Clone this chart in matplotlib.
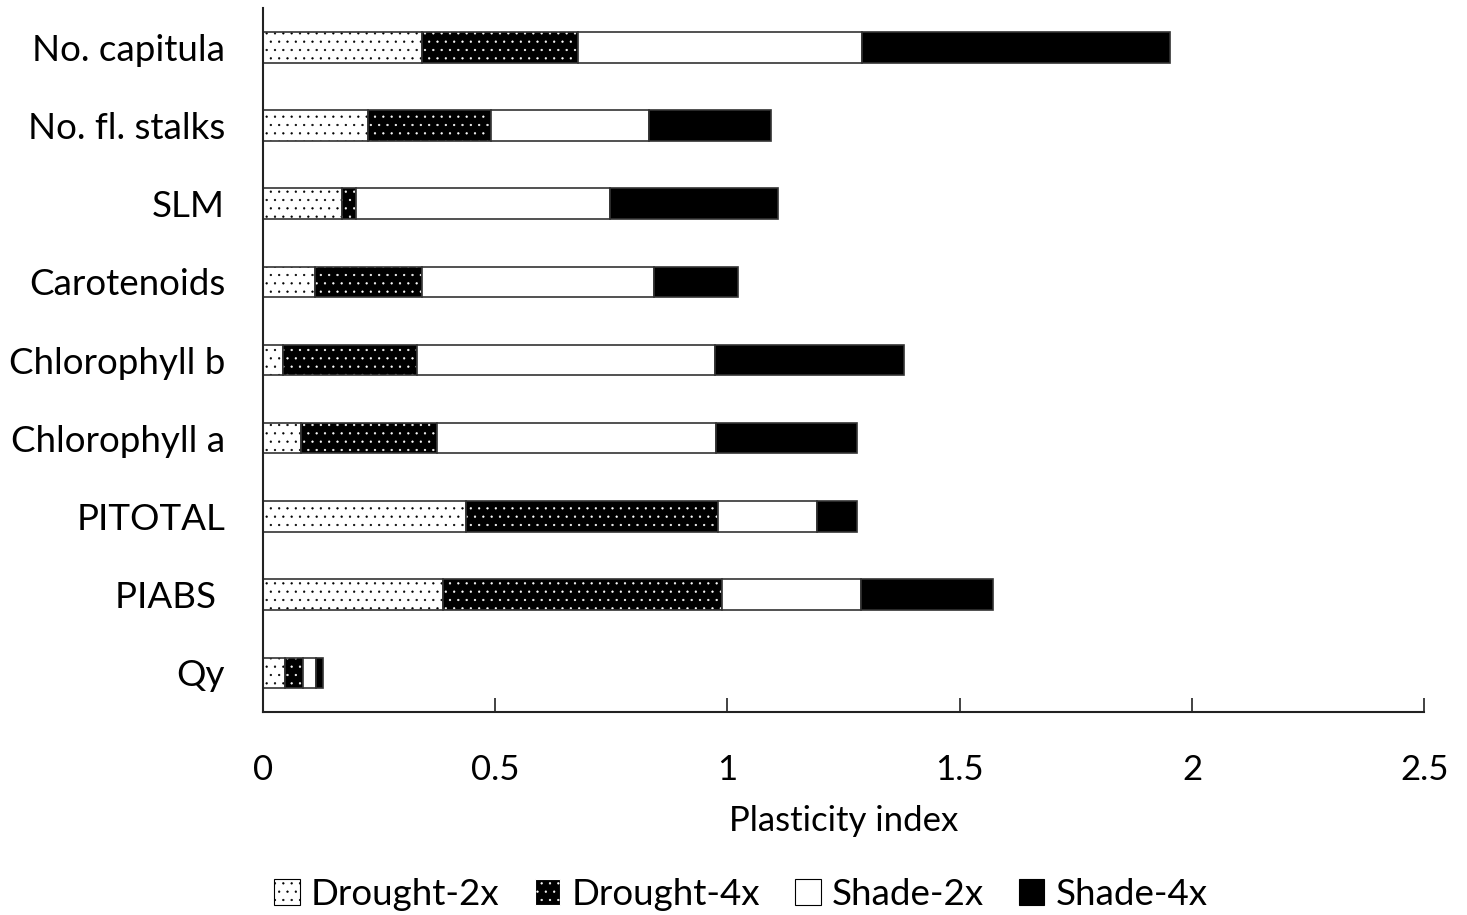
import matplotlib
matplotlib.use('Agg')
import matplotlib.pyplot as plt
import numpy as np
from matplotlib.patches import Patch

plt.rcParams['font.family'] = ['Lato', 'DejaVu Sans']
plt.rcParams['hatch.linewidth'] = 0.4

# traits from top to bottom
traits = ['No. capitula', 'No. fl. stalks', 'SLM', 'Carotenoids', 'Chlorophyll b',
          'Chlorophyll a', 'PITOTAL', 'PIABS ', 'Qy']
drought_2x = [0.342, 0.226, 0.170, 0.112, 0.043, 0.082, 0.437, 0.389, 0.049]
drought_4x = [0.336, 0.265, 0.032, 0.230, 0.290, 0.293, 0.542, 0.600, 0.039]
shade_2x = [0.611, 0.340, 0.546, 0.501, 0.641, 0.600, 0.215, 0.299, 0.026]
shade_4x = [0.663, 0.262, 0.361, 0.179, 0.407, 0.303, 0.084, 0.284, 0.017]
xticks = [0, 0.5, 1, 1.5, 2, 2.5]
xtick_labels = ['0', '0.5', '1', '1.5', '2', '2.5']

fig = plt.figure(figsize=(14.67, 9.15), dpi=100)
ax = fig.add_axes([0.179, 0.222, 0.792, 0.769])

y = np.arange(len(traits))[::-1]
h = 0.39
edge = '#333333'
dots = '..'

left = np.zeros(len(traits))
# Drought-2x: white with black dots
ax.barh(y, drought_2x, h, left=left, color='white', edgecolor='black', hatch=dots, linewidth=0)
ax.barh(y, drought_2x, h, left=left, color='none', edgecolor=edge, linewidth=1.2)
left += drought_2x
# Drought-4x: black with white dots
ax.barh(y, drought_4x, h, left=left, color='black', edgecolor='white', hatch=dots, linewidth=0)
ax.barh(y, drought_4x, h, left=left, color='none', edgecolor=edge, linewidth=1.2)
left += drought_4x
ax.barh(y, shade_2x, h, left=left, color='white', edgecolor=edge, linewidth=1.2)
left += shade_2x
ax.barh(y, shade_4x, h, left=left, color='black', edgecolor=edge, linewidth=1.2)

ax.set_xlim(0, 2.5)
ax.set_ylim(-0.5, len(traits) - 0.5)
ax.set_yticks(y)
ax.set_yticklabels(traits, fontsize=26.5)
ax.set_xticks(xticks)
ax.set_xticklabels(xtick_labels, fontsize=25)
ax.tick_params(axis='y', length=0, pad=27)
ax.tick_params(axis='x', direction='in', length=10, width=1.2, pad=30, color='#222222')
for s in ['top', 'right']:
    ax.spines[s].set_visible(False)
for s in ['left', 'bottom']:
    ax.spines[s].set_linewidth(1.5)
    ax.spines[s].set_color('#222222')
ax.set_xlabel('Plasticity index', fontsize=25, labelpad=14)

handles = [
    Patch(facecolor='white', edgecolor='black', hatch=dots, linewidth=0.8),
    Patch(facecolor='black', edgecolor='white', hatch=dots, linewidth=0.8),
    Patch(facecolor='white', edgecolor='black', linewidth=0.8),
    Patch(facecolor='black', edgecolor='black', linewidth=0.8),
]
fig.legend(handles, ['Drought-2x', 'Drought-4x', 'Shade-2x', 'Shade-4x'],
           loc='lower center', bbox_to_anchor=(0.505, -0.032), ncol=4, frameon=False,
           fontsize=26.5, handlelength=0.7, handleheight=0.7, handletextpad=0.3,
           columnspacing=0.95)

fig.savefig('out.png', dpi=100)
